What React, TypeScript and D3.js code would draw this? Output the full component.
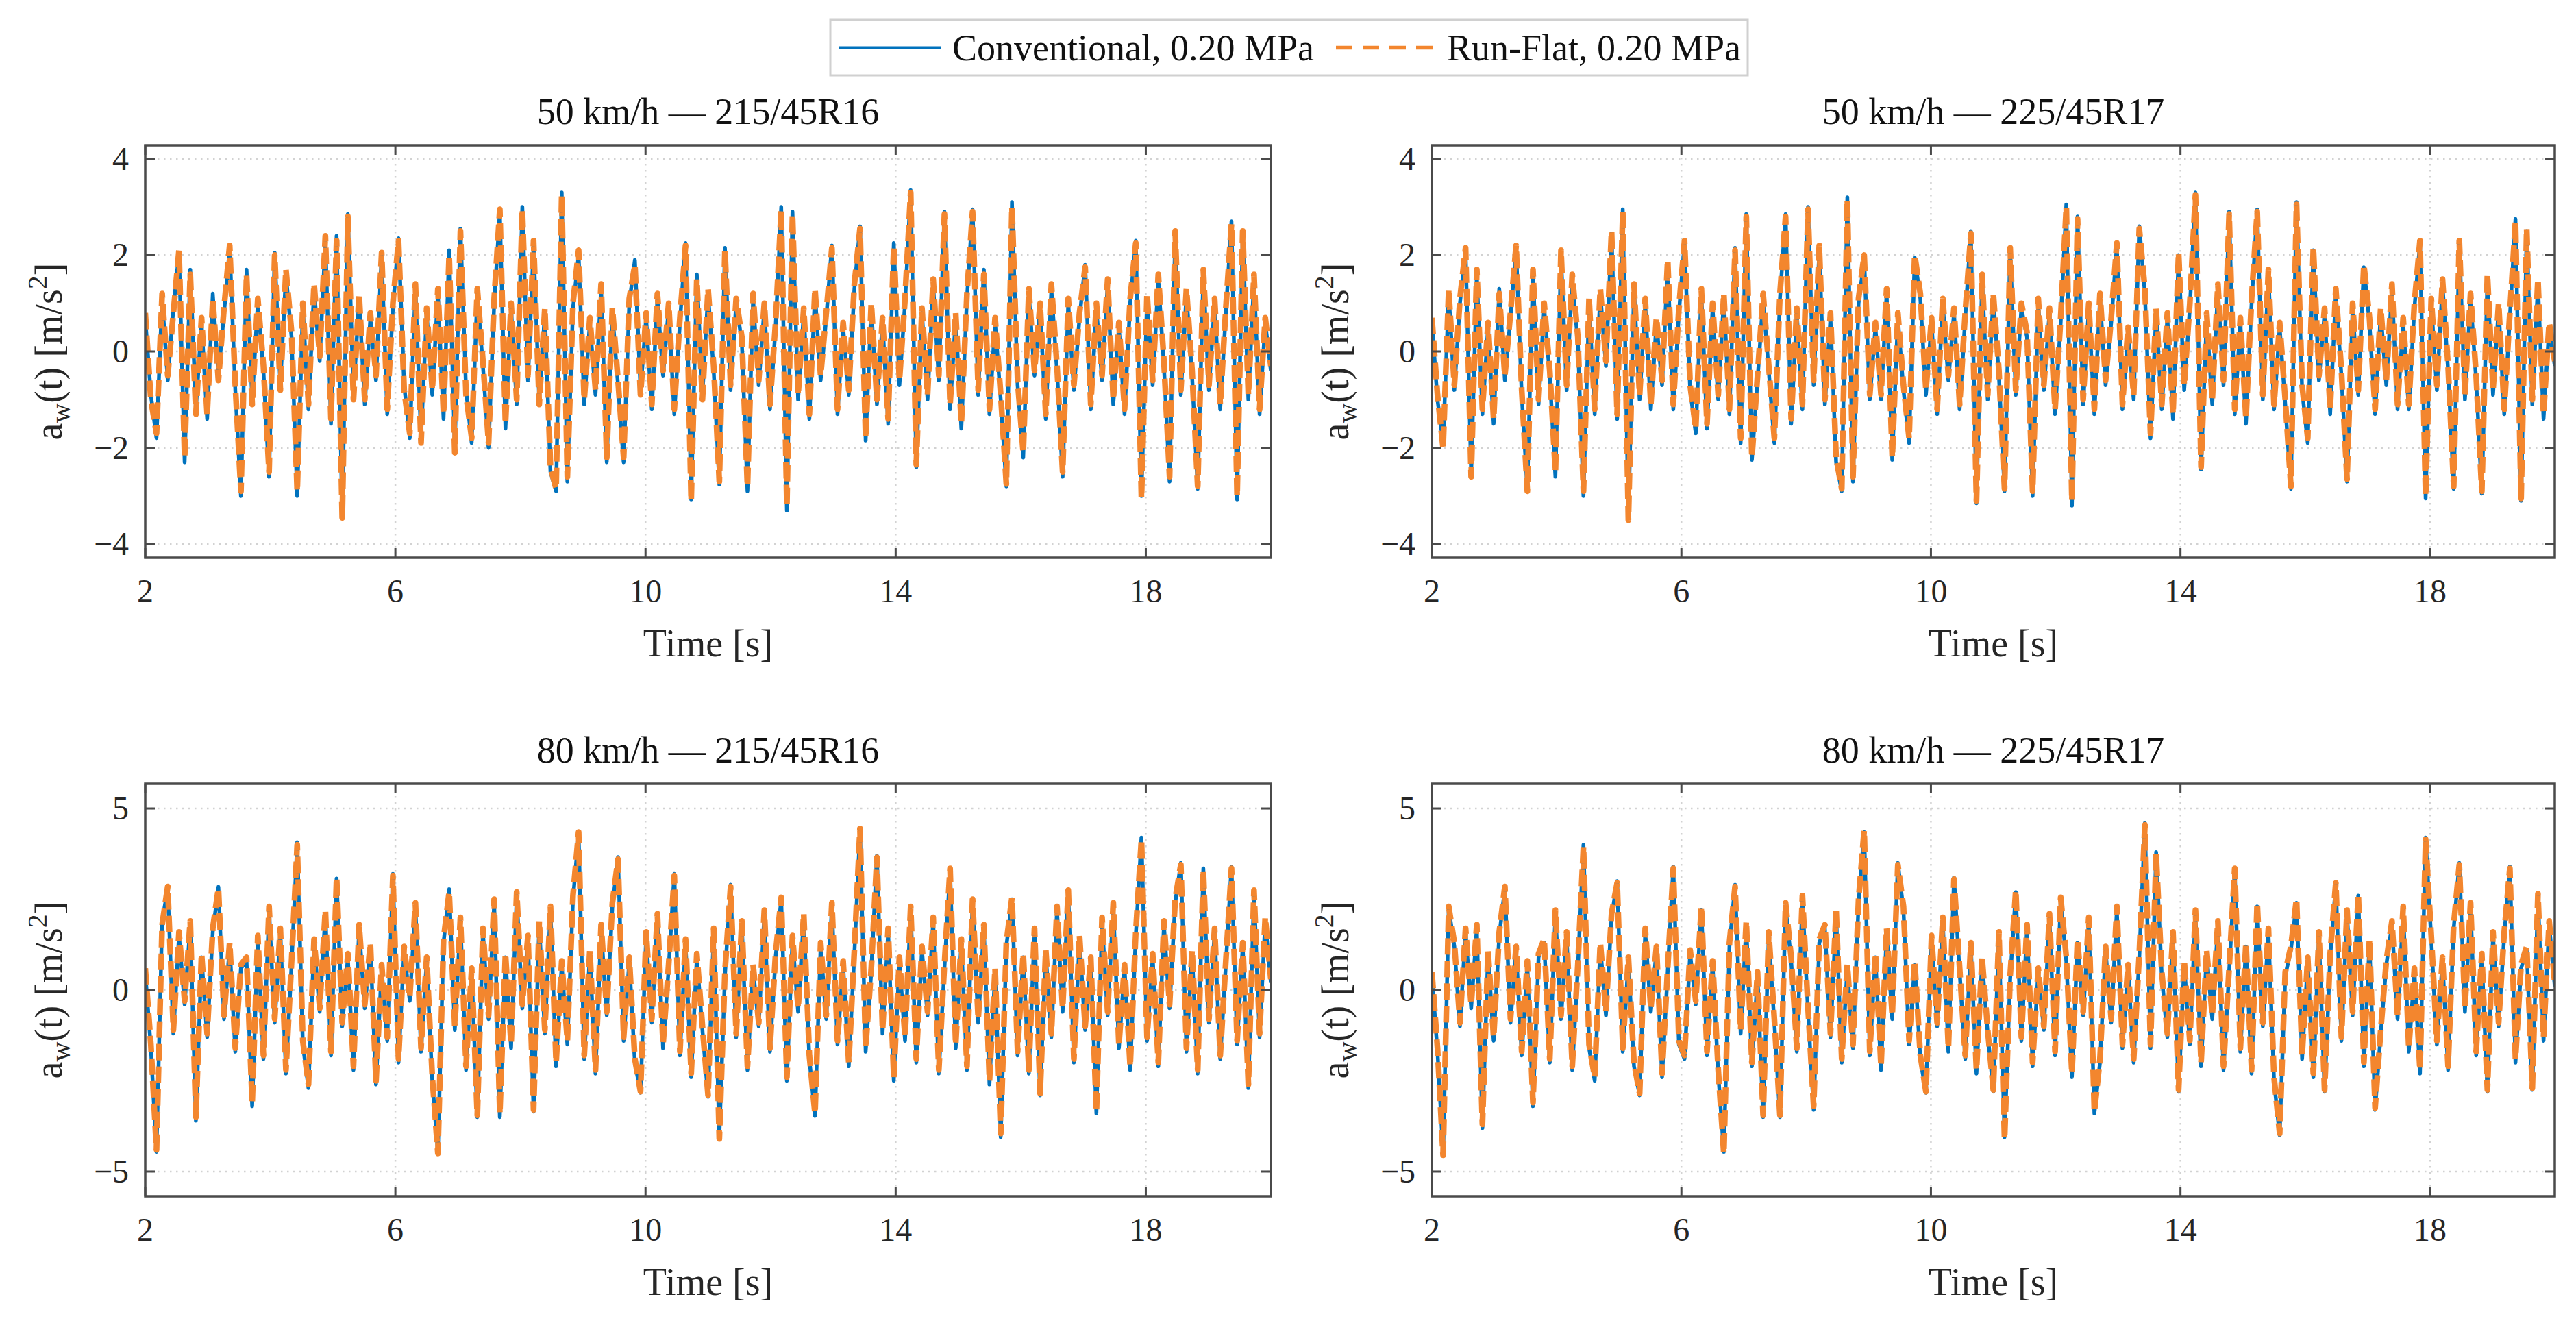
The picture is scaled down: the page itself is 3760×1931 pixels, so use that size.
import React from 'react';
import * as d3 from 'd3';

// ---------- data ----------
const seriesNames = ['Conventional, 0.20 MPa', 'Run-Flat, 0.20 MPa'];
const panelTitles = ['50 km/h — 215/45R16', '50 km/h — 225/45R17', '80 km/h — 215/45R16', '80 km/h — 225/45R17'];
const xTicks = [2, 6, 10, 14, 18];
const timeRange = [2, 20];
const yTicks50 = [-4, -2, 0, 2, 4];
const yTicks80 = [-5, 0, 5];
const yLim50 = 4.28;
const yLim80 = 5.68;

const conv50_215 = [
  0.7,-0.9,-1.8,1.1,-0.6,0.9,2.05,-2.3,1.7,-1.2,0.6,-1.4,1.2,-0.5,0.8,2.15,-0.8,-3.0,1.7,-1.0,
  1.0,-0.4,-2.6,2.05,-0.7,1.6,0.3,-3.0,0.9,-1.2,1.3,-0.2,2.3,-1.5,2.4,-3.4,2.85,-0.9,1.1,-1.1,
  0.7,-0.6,2.0,-1.3,0.9,2.35,-0.7,-1.8,1.3,-1.8,0.8,-0.9,1.2,-1.4,2.1,-2.0,2.55,-0.8,-1.9,1.2,
  -0.3,-2.0,1.0,2.9,-1.6,0.9,-1.1,3.0,-0.6,2.2,-1.0,0.8,-2.5,-2.9,3.3,-2.7,0.9,2.0,-1.1,0.6,
  -0.9,1.3,-2.3,0.8,-0.7,-2.3,1.0,1.9,-0.8,0.7,-1.2,1.1,-0.5,0.9,-1.3,0.6,2.25,-3.07,1.6,-0.9,
  1.2,-0.4,-2.76,2.15,-0.8,1.0,0.2,-2.9,1.1,-0.7,0.9,-1.2,0.5,3.0,-3.3,2.9,-1.0,0.8,-1.4,1.2,
  -0.6,0.7,2.2,-1.3,0.5,-0.9,1.3,2.6,-1.85,0.9,-1.1,0.6,-1.5,2.25,-0.7,1.0,3.35,-2.4,0.8,-1.0,
  1.4,-0.6,2.9,-1.2,0.7,-1.6,1.1,2.95,-0.9,1.7,-1.3,0.6,-1.0,-2.8,3.1,-0.7,-2.2,1.2,-0.5,0.9,
  -1.4,1.3,-0.4,-2.6,1.0,-0.8,0.7,1.8,-1.2,0.9,-0.6,1.4,-1.1,0.5,-1.3,1.0,2.3,-3.0,1.1,-0.7,
  1.5,-0.3,-2.7,2.4,-0.9,1.2,-0.5,-2.85,1.6,-0.8,1.0,-1.2,0.8,2.7,-3.07,2.45,-1.0,1.5,-1.3,0.6,
  -0.4,
];
const runflat50_215 = [
  0.8,-1.0,-1.7,1.2,-0.5,0.8,2.1,-2.2,1.6,-1.3,0.7,-1.3,1.1,-0.6,0.9,2.2,-0.7,-2.9,1.6,-1.1,
  1.1,-0.3,-2.5,2.0,-0.8,1.7,0.4,-2.9,1.0,-1.1,1.4,-0.1,2.4,-1.4,2.3,-3.45,2.8,-1.0,1.2,-1.0,
  0.8,-0.5,2.05,-1.2,1.0,2.3,-0.8,-1.7,1.4,-1.9,0.9,-0.8,1.3,-1.3,2.0,-2.1,2.5,-0.9,-1.8,1.3,
  -0.2,-1.9,1.1,2.95,-1.5,1.0,-1.0,2.95,-0.5,2.3,-1.1,0.9,-2.4,-2.85,3.25,-2.6,1.0,2.1,-1.0,0.7,
  -0.8,1.4,-2.2,0.9,-0.6,-2.2,1.1,1.8,-0.9,0.8,-1.1,1.2,-0.4,1.0,-1.2,0.7,2.2,-3.1,1.5,-1.0,
  1.3,-0.3,-2.7,2.1,-0.7,1.1,0.3,-2.8,1.2,-0.6,1.0,-1.1,0.6,2.95,-3.2,2.85,-0.9,0.9,-1.3,1.3,
  -0.5,0.8,2.15,-1.2,0.6,-0.8,1.4,2.55,-1.8,1.0,-1.0,0.7,-1.4,2.2,-0.6,1.1,3.3,-2.35,0.9,-0.9,
  1.5,-0.5,2.85,-1.1,0.8,-1.5,1.2,2.9,-0.8,1.6,-1.2,0.7,-0.9,-2.75,3.0,-0.6,-2.1,1.3,-0.4,1.0,
  -1.3,1.4,-0.3,-2.5,1.1,-0.7,0.8,1.75,-1.1,1.0,-0.5,1.5,-1.0,0.6,-1.2,1.1,2.25,-3.05,1.2,-0.6,
  1.6,-0.2,-2.6,2.5,-0.8,1.3,-0.4,-2.8,1.7,-0.7,1.1,-1.1,0.9,2.65,-3.0,2.5,-0.9,1.6,-1.2,0.7,
  -0.3,
];
const conv50_225 = [
  0.6,-1.0,-1.9,1.2,-0.8,1.0,2.1,-2.55,1.6,-1.3,0.5,-1.5,1.3,-0.6,0.7,2.15,-0.9,-2.85,1.6,-1.1,
  0.9,-0.5,-2.6,2.0,-0.8,1.5,0.2,-3.0,1.0,-1.3,1.2,-0.3,2.45,-1.4,2.95,-3.45,1.3,-1.0,1.0,-1.2,
  0.6,-0.7,1.8,-1.2,0.8,2.25,-0.8,-1.7,1.2,-1.6,0.9,-1.0,1.1,-1.3,2.15,-1.9,2.85,-2.25,-0.6,1.1,
  -0.4,-1.9,1.1,2.85,-1.5,0.8,-1.2,3.0,-0.7,2.1,-1.1,0.7,-2.3,-2.9,3.2,-2.7,1.0,1.9,-1.0,0.5,
  -1.0,1.2,-2.25,0.7,-0.8,-1.9,1.95,1.1,-0.9,0.6,-1.3,1.0,-0.6,0.8,-1.2,0.7,2.5,-3.15,1.5,-1.0,
  1.1,-0.5,-2.9,2.1,-0.9,0.9,0.3,-3.0,1.0,-0.8,0.8,-1.3,0.6,3.05,-3.2,2.8,-1.1,0.9,-1.3,1.1,
  -0.7,0.6,2.2,-1.2,0.4,-1.0,2.6,1.2,-1.8,0.8,-1.2,0.7,-1.4,2.0,-0.8,0.9,3.3,-2.45,0.7,-1.1,
  1.3,-0.7,2.9,-1.3,0.6,-1.5,1.0,2.95,-1.0,1.6,-1.2,0.5,-1.1,-2.85,3.1,-0.8,-1.9,2.1,-0.6,0.8,
  -1.3,1.2,-0.5,-2.7,0.9,-0.9,1.75,0.6,-1.3,0.8,-0.7,1.3,-1.2,0.6,-1.2,0.9,2.25,-3.05,1.0,-0.8,
  1.4,-0.4,-2.85,2.25,-1.0,1.1,-0.6,-2.95,1.5,-0.9,0.9,-1.3,0.7,2.75,-3.1,2.5,-1.1,1.4,-1.4,0.5,
  -0.3,
];
const runflat50_225 = [
  0.7,-0.9,-2.0,1.3,-0.7,1.1,2.15,-2.6,1.7,-1.2,0.6,-1.4,1.2,-0.5,0.8,2.2,-0.8,-2.9,1.7,-1.0,
  1.0,-0.4,-2.5,2.1,-0.7,1.6,0.3,-2.9,1.1,-1.2,1.3,-0.2,2.5,-1.3,2.9,-3.5,1.4,-0.9,1.1,-1.1,
  0.7,-0.6,1.9,-1.1,0.9,2.3,-0.7,-1.6,1.3,-1.5,1.0,-0.9,1.2,-1.2,2.1,-1.8,2.8,-2.2,-0.5,1.2,
  -0.3,-1.8,1.2,2.8,-1.4,0.9,-1.1,2.95,-0.6,2.2,-1.0,0.8,-2.2,-2.85,3.15,-2.6,1.1,2.0,-0.9,0.6,
  -0.9,1.3,-2.2,0.8,-0.7,-1.8,2.0,1.2,-0.8,0.7,-1.2,1.1,-0.5,0.9,-1.1,0.8,2.45,-3.1,1.6,-0.9,
  1.2,-0.4,-2.85,2.15,-0.8,1.0,0.4,-2.9,1.1,-0.7,0.9,-1.2,0.7,3.0,-3.1,2.75,-1.0,1.0,-1.2,1.2,
  -0.6,0.7,2.25,-1.1,0.5,-0.9,2.55,1.3,-1.7,0.9,-1.1,0.8,-1.3,2.05,-0.7,1.0,3.25,-2.4,0.8,-1.0,
  1.4,-0.6,2.85,-1.2,0.7,-1.4,1.1,2.9,-0.9,1.7,-1.1,0.6,-1.0,-2.8,3.05,-0.7,-1.8,2.15,-0.5,0.9,
  -1.2,1.3,-0.4,-2.65,1.0,-0.8,1.8,0.7,-1.2,0.9,-0.6,1.4,-1.1,0.7,-1.1,1.0,2.3,-3.0,1.1,-0.7,
  1.5,-0.3,-2.8,2.3,-0.9,1.2,-0.5,-2.9,1.6,-0.8,1.0,-1.2,0.8,2.7,-3.05,2.55,-1.0,1.5,-1.3,0.6,
  -0.2,
];
const conv80_215 = [
  0.5,-1.6,-4.46,1.9,2.78,-1.2,1.5,-0.4,1.8,-3.6,0.9,-1.3,1.6,2.84,-0.8,1.2,-1.7,0.6,0.8,-3.2,
  1.4,-1.9,2.2,-0.9,1.6,-2.3,0.7,4.07,-1.5,-2.7,1.3,-0.6,2.1,-1.8,3.07,-1.0,0.9,-2.2,1.7,-0.5,
  1.2,-2.6,0.6,-1.4,3.2,-2.0,1.1,-0.3,2.3,-1.7,0.8,-2.5,-4.46,1.3,2.78,-1.1,1.9,-2.2,0.5,-3.5,
  1.6,-0.8,2.4,-3.5,0.9,-1.6,2.6,-0.5,1.4,-3.35,1.8,-1.2,2.2,-2.1,0.7,-1.5,2.5,4.3,-1.9,1.0,
  -2.3,1.7,-0.7,2.3,3.66,-1.4,0.8,-2.0,-2.83,1.5,-0.9,2.0,-1.6,0.6,3.2,-1.8,1.3,-2.4,0.9,-1.1,
  -2.94,1.6,-4.05,0.4,2.9,-1.3,1.8,-2.2,0.6,-1.0,2.1,-1.7,0.9,2.5,-2.5,1.4,-0.6,2.0,-1.9,-3.47,
  1.2,-0.8,2.3,-1.5,0.7,-2.1,1.0,4.4,-1.7,0.5,3.7,-1.2,1.6,-2.5,0.8,-1.4,2.2,-2.0,1.1,-0.7,
  1.9,-2.3,0.6,3.3,-1.6,1.3,-2.2,2.4,-0.9,1.7,-2.6,0.5,-4.05,1.2,2.5,-1.8,0.9,-2.3,1.6,-2.9,
  1.0,-1.3,2.2,-0.6,2.7,-2.0,1.4,-1.1,0.8,-3.4,1.9,-0.7,2.3,-1.6,0.6,-2.2,1.5,4.2,-1.4,0.9,
  -2.1,1.8,-0.5,2.4,3.5,-1.7,1.0,-2.3,3.35,-0.9,1.6,-1.9,0.7,3.4,-1.5,1.2,-2.7,2.7,-1.3,1.9,
  0.2,
];
const runflat80_215 = [
  0.6,-1.5,-4.4,1.8,2.85,-1.1,1.6,-0.3,1.9,-3.5,1.0,-1.2,1.7,2.8,-0.7,1.3,-1.6,0.7,0.9,-3.1,
  1.5,-1.8,2.3,-0.8,1.7,-2.2,0.8,4.0,-1.4,-2.6,1.4,-0.5,2.2,-1.7,3.1,-0.9,1.0,-2.1,1.8,-0.4,
  1.3,-2.5,0.7,-1.3,3.15,-1.9,1.2,-0.2,2.4,-1.6,0.9,-2.4,-4.5,1.4,2.7,-1.0,2.0,-2.1,0.6,-3.45,
  1.7,-0.7,2.5,-3.4,1.0,-1.5,2.7,-0.4,1.5,-3.3,1.9,-1.1,2.3,-2.0,0.8,-1.4,2.6,4.35,-1.8,1.1,
  -2.2,1.8,-0.6,2.4,3.6,-1.3,0.9,-1.9,-2.8,1.6,-0.8,2.1,-1.5,0.7,3.15,-1.7,1.4,-2.3,1.0,-1.0,
  -2.9,1.7,-4.1,0.5,2.85,-1.2,1.9,-2.1,0.7,-0.9,2.2,-1.6,1.0,2.55,-2.4,1.5,-0.5,2.1,-1.8,-3.4,
  1.3,-0.7,2.4,-1.4,0.8,-2.0,1.1,4.45,-1.6,0.6,3.65,-1.1,1.7,-2.4,0.9,-1.3,2.3,-1.9,1.2,-0.6,
  2.0,-2.2,0.7,3.35,-1.5,1.4,-2.1,2.5,-0.8,1.8,-2.5,0.6,-3.95,1.3,2.55,-1.7,1.0,-2.2,1.7,-2.85,
  1.1,-1.2,2.3,-0.5,2.75,-1.9,1.5,-1.0,0.9,-3.35,2.0,-0.6,2.4,-1.5,0.7,-2.1,1.6,4.15,-1.3,1.0,
  -2.0,1.9,-0.4,2.5,3.45,-1.6,1.1,-2.2,3.3,-0.8,1.7,-1.8,0.8,3.35,-1.4,1.3,-2.6,2.75,-1.2,2.0,
  0.3,
];
const conv80_225 = [
  0.4,-1.7,-4.5,2.25,1.2,-1.0,1.6,-0.5,1.7,-3.8,1.0,-1.4,1.5,2.8,-0.9,1.1,-1.8,0.7,-3.2,0.9,
  1.3,-2.0,2.1,-0.8,1.5,-2.2,0.6,4.0,-1.6,-2.5,1.2,-0.7,2.0,3.0,-1.7,0.8,-2.1,-2.9,1.6,-0.6,
  1.1,-2.4,0.5,3.4,-1.5,-1.9,1.0,-0.4,2.2,-1.8,0.7,-2.3,-4.46,1.2,2.9,-1.2,1.8,-2.1,0.4,-3.5,
  1.5,-0.9,-3.5,2.3,0.8,-1.7,2.5,-0.6,-3.3,1.3,1.7,-1.3,2.1,-2.0,0.6,-1.6,2.4,4.35,-1.8,0.9,
  -2.2,1.6,-0.8,3.5,2.2,-1.5,0.7,-1.9,-2.83,1.4,-1.0,1.9,-1.7,3.1,0.5,-1.9,1.2,-2.3,0.8,-1.2,
  -2.8,1.5,-4.05,0.3,2.7,-1.4,1.7,-2.1,0.5,-1.1,2.0,-1.8,2.5,0.8,-2.4,1.3,-0.7,1.9,-3.4,-2.0,
  1.1,-0.9,2.2,-1.6,0.6,-2.0,0.9,4.6,-1.6,3.8,0.4,-1.3,1.5,-2.8,0.7,-1.5,2.1,-2.1,1.0,-0.8,
  1.8,-2.2,0.5,3.3,-1.7,1.2,-2.3,2.3,-1.0,1.6,-2.5,-4.0,0.4,1.1,2.4,-1.9,0.8,-2.4,1.5,-2.8,
  0.9,2.9,-1.4,2.1,-0.7,2.6,-2.1,1.3,-3.3,-1.2,0.7,1.8,-0.8,2.2,-1.7,0.5,-2.3,4.2,1.4,-1.5,
  0.8,-2.2,1.7,3.5,-0.6,2.3,-1.8,0.9,-2.8,1.5,-1.0,1.5,3.4,-2.0,0.6,1.1,-2.75,2.6,-1.4,1.8,
  0.1,
];
const runflat80_225 = [
  0.5,-1.6,-4.55,2.3,1.3,-0.9,1.7,-0.4,1.8,-3.7,1.1,-1.3,1.6,2.85,-0.8,1.2,-1.7,0.8,-3.1,1.0,
  1.4,-1.9,2.2,-0.7,1.6,-2.1,0.7,3.95,-1.5,-2.4,1.3,-0.6,2.1,2.95,-1.6,0.9,-2.0,-2.85,1.7,-0.5,
  1.2,-2.3,0.6,3.35,-1.4,-1.8,1.1,-0.3,2.3,-1.7,0.8,-2.2,-4.5,1.3,2.85,-1.1,1.9,-2.0,0.5,-3.45,
  1.6,-0.8,-3.45,2.4,0.9,-1.6,2.6,-0.5,-3.2,1.4,1.8,-1.2,2.2,-1.9,0.7,-1.5,2.5,4.4,-1.7,1.0,
  -2.1,1.7,-0.7,3.45,2.3,-1.4,0.8,-1.8,-2.8,1.5,-0.9,2.0,-1.6,3.05,0.6,-1.8,1.3,-2.2,0.9,-1.1,
  -2.75,1.6,-4.1,0.4,2.75,-1.3,1.8,-2.0,0.6,-1.0,2.1,-1.7,2.55,0.9,-2.3,1.4,-0.6,2.0,-3.35,-1.9,
  1.2,-0.8,2.3,-1.5,0.7,-1.9,1.0,4.55,-1.5,3.75,0.5,-1.2,1.6,-2.75,0.8,-1.4,2.2,-2.0,1.1,-0.7,
  1.9,-2.1,0.6,3.35,-1.6,1.3,-2.2,2.4,-0.9,1.7,-2.4,-3.95,0.5,1.2,2.5,-1.8,0.9,-2.3,1.6,-2.75,
  1.0,2.95,-1.3,2.2,-0.6,2.65,-2.0,1.4,-3.25,-1.1,0.8,1.9,-0.7,2.3,-1.6,0.6,-2.2,4.15,1.5,-1.4,
  0.9,-2.1,1.8,3.45,-0.5,2.4,-1.7,1.0,-2.75,1.6,-0.9,1.6,3.35,-1.9,0.7,1.2,-2.7,2.65,-1.3,1.9,
  0.2,
];

// ---------- styles ----------
const FONT = "'Liberation Serif', 'Times New Roman', serif";
const BLUE = '#0072BD';
const ORANGE = '#F3862E';
const AXIS = '#4a4a4a';
const GRID = '#d2d2d2';

type PanelDef = {
  title: string; conv: number[]; rf: number[]; yTicks: number[]; yLim: number;
  left: number; right: number; top: number; bottom: number; id: string;
};

const ROW_TOP = [212, 1144];
const ROW_H = 602;
const COLS = [[212, 1855], [2090, 3729]];

const panels: PanelDef[] = [
  { id: 'p0', title: panelTitles[0], conv: conv50_215, rf: runflat50_215, yTicks: yTicks50, yLim: yLim50, left: COLS[0][0], right: COLS[0][1], top: ROW_TOP[0], bottom: ROW_TOP[0] + ROW_H },
  { id: 'p1', title: panelTitles[1], conv: conv50_225, rf: runflat50_225, yTicks: yTicks50, yLim: yLim50, left: COLS[1][0], right: COLS[1][1], top: ROW_TOP[0], bottom: ROW_TOP[0] + ROW_H },
  { id: 'p2', title: panelTitles[2], conv: conv80_215, rf: runflat80_215, yTicks: yTicks80, yLim: yLim80, left: COLS[0][0], right: COLS[0][1], top: ROW_TOP[1], bottom: ROW_TOP[1] + ROW_H },
  { id: 'p3', title: panelTitles[3], conv: conv80_225, rf: runflat80_225, yTicks: yTicks80, yLim: yLim80, left: COLS[1][0], right: COLS[1][1], top: ROW_TOP[1], bottom: ROW_TOP[1] + ROW_H },
];

const fmt = (v: number) => (v < 0 ? '\u2212' + Math.abs(v) : String(v));

function Panel({ p }: { p: PanelDef }) {
  const x = d3.scaleLinear().domain(timeRange).range([p.left, p.right]);
  const y = d3.scaleLinear().domain([-p.yLim, p.yLim]).range([p.bottom, p.top]);
  const mkLine = (arr: number[]) => {
    const t = d3.scaleLinear().domain([0, arr.length - 1]).range(timeRange);
    return d3.line<number>().x((_, i) => x(t(i))).y((d) => y(d))(arr) || '';
  };
  const tick = 14;
  const cx = (p.left + p.right) / 2;
  const cy = (p.top + p.bottom) / 2;
  return (
    <g>
      <defs>
        <clipPath id={`clip-${p.id}`}>
          <rect x={p.left} y={p.top} width={p.right - p.left} height={p.bottom - p.top} />
        </clipPath>
      </defs>
      {/* grid */}
      {xTicks.filter((v) => v !== timeRange[0]).map((v) => (
        <line key={'gx' + v} x1={x(v)} x2={x(v)} y1={p.top} y2={p.bottom} stroke={GRID} strokeWidth={2.5} strokeDasharray="2.5 6.5" />
      ))}
      {p.yTicks.map((v) => (
        <line key={'gy' + v} x1={p.left} x2={p.right} y1={y(v)} y2={y(v)} stroke={GRID} strokeWidth={2.5} strokeDasharray="2.5 6.5" />
      ))}
      {/* data */}
      <g clipPath={`url(#clip-${p.id})`}>
        <path d={mkLine(p.conv)} fill="none" stroke={BLUE} strokeWidth={5.5} strokeLinejoin="round" />
        <path d={mkLine(p.rf)} fill="none" stroke={ORANGE} strokeWidth={8.5} strokeDasharray="24 9" strokeLinejoin="round" />
      </g>
      {/* box */}
      <rect x={p.left} y={p.top} width={p.right - p.left} height={p.bottom - p.top} fill="none" stroke={AXIS} strokeWidth={3.5} />
      {/* ticks */}
      {xTicks.map((v) => (
        <g key={'tx' + v}>
          <line x1={x(v)} x2={x(v)} y1={p.bottom} y2={p.bottom - tick} stroke={AXIS} strokeWidth={3} />
          <line x1={x(v)} x2={x(v)} y1={p.top} y2={p.top + tick} stroke={AXIS} strokeWidth={3} />
          <text x={x(v)} y={p.bottom + 65} textAnchor="middle" fontSize={48} fontFamily={FONT} fill="#262626">{fmt(v)}</text>
        </g>
      ))}
      {p.yTicks.map((v) => (
        <g key={'ty' + v}>
          <line x1={p.left} x2={p.left + tick} y1={y(v)} y2={y(v)} stroke={AXIS} strokeWidth={3} />
          <line x1={p.right} x2={p.right - tick} y1={y(v)} y2={y(v)} stroke={AXIS} strokeWidth={3} />
          <text x={p.left - 24} y={y(v) + 16} textAnchor="end" fontSize={48} fontFamily={FONT} fill="#262626">{fmt(v)}</text>
        </g>
      ))}
      {/* title */}
      <text x={cx} y={p.top - 31} textAnchor="middle" fontSize={54} fontFamily={FONT} fill="#111">{p.title}</text>
      {/* x label */}
      <text x={cx} y={p.bottom + 144} textAnchor="middle" fontSize={56} fontFamily={FONT} fill="#262626">Time [s]</text>
      {/* y label */}
      <text transform={`translate(${p.left - 122},${cy}) rotate(-90)`} textAnchor="middle" fontSize={56} fontFamily={FONT} fill="#262626">
        a<tspan dy={12} fontSize={40}>w</tspan><tspan dy={-12}>(t) [m/s</tspan><tspan dy={-22} fontSize={40}>2</tspan><tspan dy={22}>]</tspan>
      </text>
    </g>
  );
}

function Legend() {
  const lx = 1212, ly = 29, lw = 1339, lh = 81;
  const midY = ly + lh / 2;
  return (
    <g>
      <rect x={lx} y={ly} width={lw} height={lh} fill="#fff" stroke="#d0d0d0" strokeWidth={3} />
      <line x1={1225} x2={1374} y1={midY} y2={midY} stroke={BLUE} strokeWidth={4} />
      <text x={1390} y={midY + 18} fontSize={54} fontFamily={FONT} fill="#111">{seriesNames[0]}</text>
      <line x1={1950} x2={2099} y1={midY} y2={midY} stroke={ORANGE} strokeWidth={5.5} strokeDasharray="24 15" />
      <text x={2112} y={midY + 18} fontSize={54} fontFamily={FONT} fill="#111">{seriesNames[1]}</text>
    </g>
  );
}

export default function App() {
  return (
    <svg width={3760} height={1931} viewBox="0 0 3760 1931" style={{ position: 'absolute', left: 0, top: 0, background: '#fff' }}>
      <rect x={0} y={0} width={3760} height={1931} fill="#fff" />
      {panels.map((p) => <Panel key={p.id} p={p} />)}
      <Legend />
    </svg>
  );
}
